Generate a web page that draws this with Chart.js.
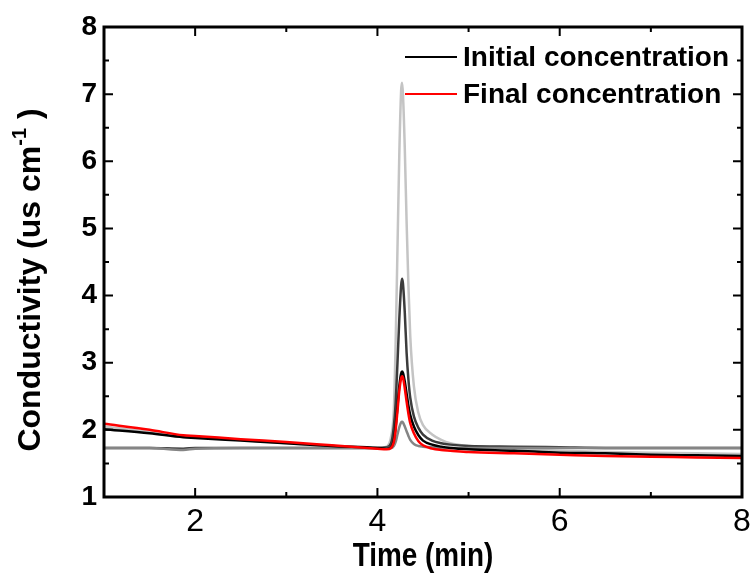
<!DOCTYPE html>
<html>
<head>
<meta charset="utf-8">
<script src="https://cdn.jsdelivr.net/npm/chart.js@4.4.0/dist/chart.umd.min.js"></script>
<style>
  html, body { margin: 0; padding: 0; background: #fff; }
  #wrap { width: 753px; height: 578px; }
</style>
</head>
<body>
<div id="wrap"><canvas id="grafico"></canvas></div>
<script>
// Time axis (min) shared by all runs
const time = [1, 1.5, 1.87, 2, 2.5, 3, 3.5, 4,
  4.1, 4.15, 4.18, 4.2, 4.22, 4.24, 4.26, 4.27, 4.28, 4.3,
  4.32, 4.34, 4.36, 4.4, 4.45, 4.5, 4.6, 4.7, 4.8,
  5, 5.5, 6, 6.5, 7, 7.5, 8];

// Conductivity (us cm-1)
const finalConc = [2.09, 2.0, 1.92, 1.91, 1.86, 1.82, 1.77, 1.72,
  1.71, 1.73, 1.82, 2.0, 2.28, 2.58, 2.77, 2.8, 2.78, 2.62,
  2.42, 2.24, 2.1, 1.95, 1.83, 1.77, 1.72, 1.7, 1.69,
  1.67, 1.65, 1.63, 1.61, 1.6, 1.59, 1.58];

const initialConc = [2.01, 1.95, 1.89, 1.88, 1.84, 1.8, 1.76, 1.73,
  1.72, 1.74, 1.85, 2.05, 2.35, 2.65, 2.84, 2.87, 2.85, 2.72,
  2.54, 2.36, 2.22, 2.05, 1.92, 1.84, 1.78, 1.75, 1.73,
  1.71, 1.69, 1.66, 1.65, 1.63, 1.62, 1.61];

const runSmall = [1.73, 1.73, 1.7, 1.72, 1.73, 1.73, 1.73, 1.73,
  1.73, 1.73, 1.76, 1.82, 1.93, 2.04, 2.11, 2.12, 2.11, 2.05,
  1.98, 1.91, 1.85, 1.79, 1.76, 1.75, 1.74, 1.73, 1.73,
  1.73, 1.73, 1.73, 1.73, 1.73, 1.73, 1.73];

const runMedium = [1.73, 1.73, 1.72, 1.73, 1.73, 1.73, 1.73, 1.73,
  1.74, 1.8, 2.05, 2.4, 3.0, 3.65, 4.15, 4.25, 4.18, 3.75,
  3.15, 2.75, 2.48, 2.2, 2.03, 1.93, 1.84, 1.8, 1.78,
  1.76, 1.75, 1.74, 1.73, 1.73, 1.73, 1.73];

const runLarge = [2.05, 1.97, 1.9, 1.89, 1.85, 1.8, 1.76, 1.73,
  1.75, 1.9, 2.3, 3.3, 4.7, 6.1, 7.05, 7.17, 7.0, 6.2,
  5.1, 4.15, 3.4, 2.65, 2.25, 2.07, 1.93, 1.85, 1.8,
  1.76, 1.72, 1.69, 1.67, 1.66, 1.65, 1.64];

const yTicks = [1, 2, 3, 4, 5, 6, 7, 8];
const xTickLabels = [2, 4, 6, 8];

function pontos(valores) {
  return time.map((t, i) => ({ x: t, y: valores[i] }));
}

function serie(label, valores, cor, legenda) {
  return {
    label: label,
    data: pontos(valores),
    borderColor: cor,
    borderWidth: 2.5,
    pointRadius: 0,
    fill: false,
    cubicInterpolationMode: 'monotone',
    showInLegend: legenda
  };
}

// Frame on all four sides with inward ticks
const molduraTicks = {
  id: 'molduraTicks',
  afterDatasetsDraw(chart) {
    const { ctx, chartArea: a, scales: { x, y } } = chart;
    ctx.save();
    ctx.strokeStyle = '#000';
    ctx.lineWidth = 3;
    ctx.strokeRect(a.left, a.top, a.right - a.left, a.bottom - a.top);
    ctx.lineWidth = 2;
    ctx.beginPath();
    for (let v = x.min; v <= x.max; v += 1) {
      const px = x.getPixelForValue(v);
      const len = v % 2 === 0 ? 9 : 5;
      ctx.moveTo(px, a.bottom); ctx.lineTo(px, a.bottom - len);
      ctx.moveTo(px, a.top); ctx.lineTo(px, a.top + len);
    }
    for (let v = y.min; v <= y.max; v += 0.5) {
      const py = y.getPixelForValue(v);
      const len = v % 1 === 0 ? 9 : 5;
      ctx.moveTo(a.left, py); ctx.lineTo(a.left + len, py);
      ctx.moveTo(a.right, py); ctx.lineTo(a.right - len, py);
    }
    ctx.stroke();
    ctx.restore();
  }
};

// Legend inside the plot (top right) and axis titles
const textos = {
  id: 'textos',
  afterDraw(chart) {
    const { ctx, chartArea: a } = chart;
    const itens = chart.data.datasets.filter(d => d.showInLegend);
    ctx.save();
    ctx.font = 'bold 28px "Liberation Sans", Arial, sans-serif';
    ctx.textBaseline = 'middle';
    ctx.textAlign = 'left';
    const ordem = ['Initial concentration', 'Final concentration'];
    ordem.forEach((nome, i) => {
      const d = itens.find(it => it.label === nome);
      const yy = a.top + 30 + i * 37;
      ctx.strokeStyle = d.borderColor;
      ctx.lineWidth = 2;
      ctx.beginPath();
      ctx.moveTo(405, yy);
      ctx.lineTo(457, yy);
      ctx.stroke();
      ctx.fillStyle = '#000';
      ctx.fillText(d.label, 463, yy + 1);
    });
    ctx.restore();

    // y title with superscript
    ctx.save();
    ctx.fillStyle = '#000';
    ctx.translate(31, 280);
    ctx.rotate(-Math.PI / 2);
    ctx.textBaseline = 'middle';
    ctx.textAlign = 'left';
    const fonteG = 'bold 32px "Liberation Sans", Arial, sans-serif';
    const fonteP = 'bold 20px "Liberation Sans", Arial, sans-serif';
    const parte1 = 'Conductivity (us cm';
    const sup = '-1';
    const parte2 = ')';
    ctx.font = fonteG;
    const w1 = ctx.measureText(parte1).width;
    const w3 = ctx.measureText(' ' + parte2).width;
    ctx.font = fonteP;
    const w2 = ctx.measureText(sup).width;
    let px = -(w1 + w2 + w3) / 2;
    ctx.font = fonteG;
    ctx.fillText(parte1, px, 0);
    px += w1;
    ctx.font = fonteP;
    ctx.fillText(sup, px, -11);
    px += w2;
    ctx.font = fonteG;
    ctx.fillText(' ' + parte2, px, 0);
    ctx.restore();

    // x axis title, squeezed like a narrow font
    ctx.save();
    ctx.fillStyle = '#000';
    const cx = (a.left + a.right) / 2;
    ctx.translate(cx, 557);
    ctx.scale(0.82, 1);
    ctx.textAlign = 'center';
    ctx.textBaseline = 'middle';
    ctx.font = 'bold 34px "Liberation Sans", Arial, sans-serif';
    ctx.fillText('Time (min)', 0, 0);
    ctx.restore();
  }
};

const ctx = document.getElementById('grafico').getContext('2d');
new Chart(ctx, {
  type: 'line',
  data: {
    datasets: [
      serie('Final concentration', finalConc, '#ff0000', true),
      serie('Initial concentration', initialConc, '#000000', true),
      serie('run 3', runSmall, '#858585', false),
      serie('run 2', runMedium, '#3c3c3c', false),
      serie('run 1', runLarge, '#c4c4c4', false)
    ]
  },
  options: {
    responsive: true,
    maintainAspectRatio: false,
    animation: false,
    layout: { padding: { top: 27, right: 11, left: 0, bottom: 0 } },
    plugins: {
      legend: { display: false },
      tooltip: { enabled: false }
    },
    scales: {
      x: {
        type: 'linear',
        min: 1,
        max: 8,
        grid: { display: false, drawTicks: false },
        border: { display: false },
        afterBuildTicks(scale) {
          scale.ticks = xTickLabels.map(v => ({ value: v }));
        },
        ticks: {
          color: '#000',
          padding: 6,
          maxRotation: 0,
          font: { family: '"Liberation Sans", Arial', size: 32 }
        },
        afterFit(scale) {
          scale.height = 81;
          scale.paddingLeft = 0;
          scale.paddingRight = 0;
        }
      },
      y: {
        type: 'linear',
        min: 1,
        max: 8,
        grid: { display: false, drawTicks: false },
        border: { display: false },
        afterBuildTicks(scale) {
          scale.ticks = yTicks.map(v => ({ value: v }));
        },
        ticks: {
          color: '#000',
          padding: 7,
          font: { family: '"Liberation Sans", Arial', size: 28, weight: 'bold' }
        },
        afterFit(scale) {
          scale.width = 104;
          scale.paddingTop = 0;
          scale.paddingBottom = 0;
        }
      }
    }
  },
  plugins: [molduraTicks, textos]
});
</script>
</body>
</html>
